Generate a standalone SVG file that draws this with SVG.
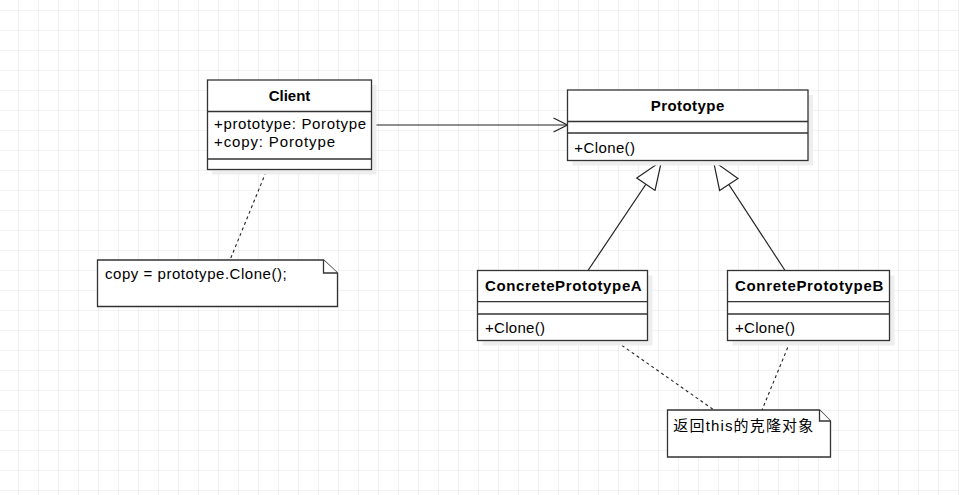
<svg xmlns="http://www.w3.org/2000/svg" width="959" height="495" viewBox="0 0 959 495">
<defs>
<pattern id="grid" x="18" y="10" width="20" height="20" patternUnits="userSpaceOnUse">
<path d="M0 0H20M0 0V20" fill="none" stroke="#e6e6e6" stroke-width="1.2"/>
</pattern>
<marker id="open" viewBox="0 0 16 16" refX="15" refY="8" markerWidth="16" markerHeight="16" markerUnits="userSpaceOnUse" orient="auto">
<path d="M1 1L15 8L1 15" fill="none" stroke="#222" stroke-width="1.2"/>
</marker>
<marker id="tri" viewBox="0 0 30 24" refX="29" refY="12" markerWidth="30" markerHeight="24" markerUnits="userSpaceOnUse" orient="auto">
<path d="M1 1L29 12L1 23Z" fill="#fff" stroke="#222" stroke-width="1.2"/>
</marker>
</defs>
<style>
.box{fill:#fff;stroke:#333;stroke-width:1.3}
.sh{fill:#eeeeee}
.ln{stroke:#333;stroke-width:1.3}
.t{font-family:"Liberation Sans",Arial,sans-serif;font-size:15px;fill:#000}
.b{font-weight:bold}
.c{font-family:"Liberation Sans","Noto Sans CJK SC",sans-serif;font-size:15px;fill:#000}
.con{stroke:#222;stroke-width:1.2;fill:none}
.dash{stroke:#222;stroke-width:1.1;fill:none;stroke-dasharray:3 3}
</style>
<rect width="959" height="495" fill="#fff"/>
<rect width="959" height="495" fill="url(#grid)"/>

<g id="connectors">
<line class="con" x1="371.5" y1="125" x2="567.5" y2="125" marker-end="url(#open)"/>
<line class="con" x1="588" y1="270.5" x2="661.5" y2="161" marker-end="url(#tri)"/>
<line class="con" x1="785" y1="270.5" x2="713.5" y2="161" marker-end="url(#tri)"/>
<line class="dash" x1="266" y1="172" x2="230" y2="260"/>
<line class="dash" x1="617" y1="342" x2="714" y2="410"/>
<line class="dash" x1="790" y1="342" x2="762" y2="410"/>
</g>

<g id="client">
<rect class="sh" x="212" y="85" width="164.5" height="89.5"/>
<rect class="box" x="207.5" y="80" width="164" height="89.5"/>
<line class="ln" x1="207.5" y1="111.5" x2="371.5" y2="111.5"/>
<line class="ln" x1="207.5" y1="159" x2="371.5" y2="159"/>
<text class="t b" x="289.5" y="100.7" text-anchor="middle">Client</text>
<text class="t" x="214" y="129.3" textLength="152" lengthAdjust="spacing">+prototype: Porotype</text>
<text class="t" x="214" y="147.3" textLength="121" lengthAdjust="spacing">+copy: Porotype</text>
</g>

<g id="prototype">
<rect class="sh" x="572.5" y="95" width="240.5" height="70.5"/>
<rect class="box" x="567.5" y="90" width="240.5" height="70.5"/>
<line class="ln" x1="567.5" y1="121.5" x2="808" y2="121.5"/>
<line class="ln" x1="567.5" y1="133" x2="808" y2="133"/>
<text class="t b" x="650.7" y="110.7" textLength="73.6" lengthAdjust="spacing">Prototype</text>
<text class="t" x="574.3" y="152.7" textLength="60.7" lengthAdjust="spacing">+Clone()</text>
</g>

<g id="concreteA">
<rect class="sh" x="482.5" y="275.5" width="170" height="70"/>
<rect class="box" x="477.5" y="270.5" width="170" height="70"/>
<line class="ln" x1="477.5" y1="301.7" x2="647.5" y2="301.7"/>
<line class="ln" x1="477.5" y1="314" x2="647.5" y2="314"/>
<text class="t b" x="485" y="291" textLength="156.7" lengthAdjust="spacing">ConcretePrototypeA</text>
<text class="t" x="485" y="332.7" textLength="60" lengthAdjust="spacing">+Clone()</text>
</g>

<g id="concreteB">
<rect class="sh" x="732.5" y="275.5" width="162" height="70"/>
<rect class="box" x="727.5" y="270.5" width="162" height="70"/>
<line class="ln" x1="727.5" y1="301.7" x2="889.5" y2="301.7"/>
<line class="ln" x1="727.5" y1="314" x2="889.5" y2="314"/>
<text class="t b" x="735" y="291" textLength="148.3" lengthAdjust="spacing">ConretePrototypeB</text>
<text class="t" x="735" y="332.7" textLength="60" lengthAdjust="spacing">+Clone()</text>
</g>

<g id="note1">
<path class="box" d="M97.5 260H323.5L337.5 273V306.5H97.5Z"/>
<path class="box" d="M323.5 260V273H337.5" fill="none"/>
<text class="t" x="105" y="279" textLength="181.7" lengthAdjust="spacing">copy = prototype.Clone();</text>
</g>

<g id="note2">
<path class="box" d="M667.5 410H819.5L830.5 421V457H667.5Z"/>
<path class="box" d="M819.5 410V421H830.5" fill="none"/>
<text class="c" x="673.3" y="431" textLength="140" lengthAdjust="spacing">返回this的克隆对象</text>
</g>
</svg>
